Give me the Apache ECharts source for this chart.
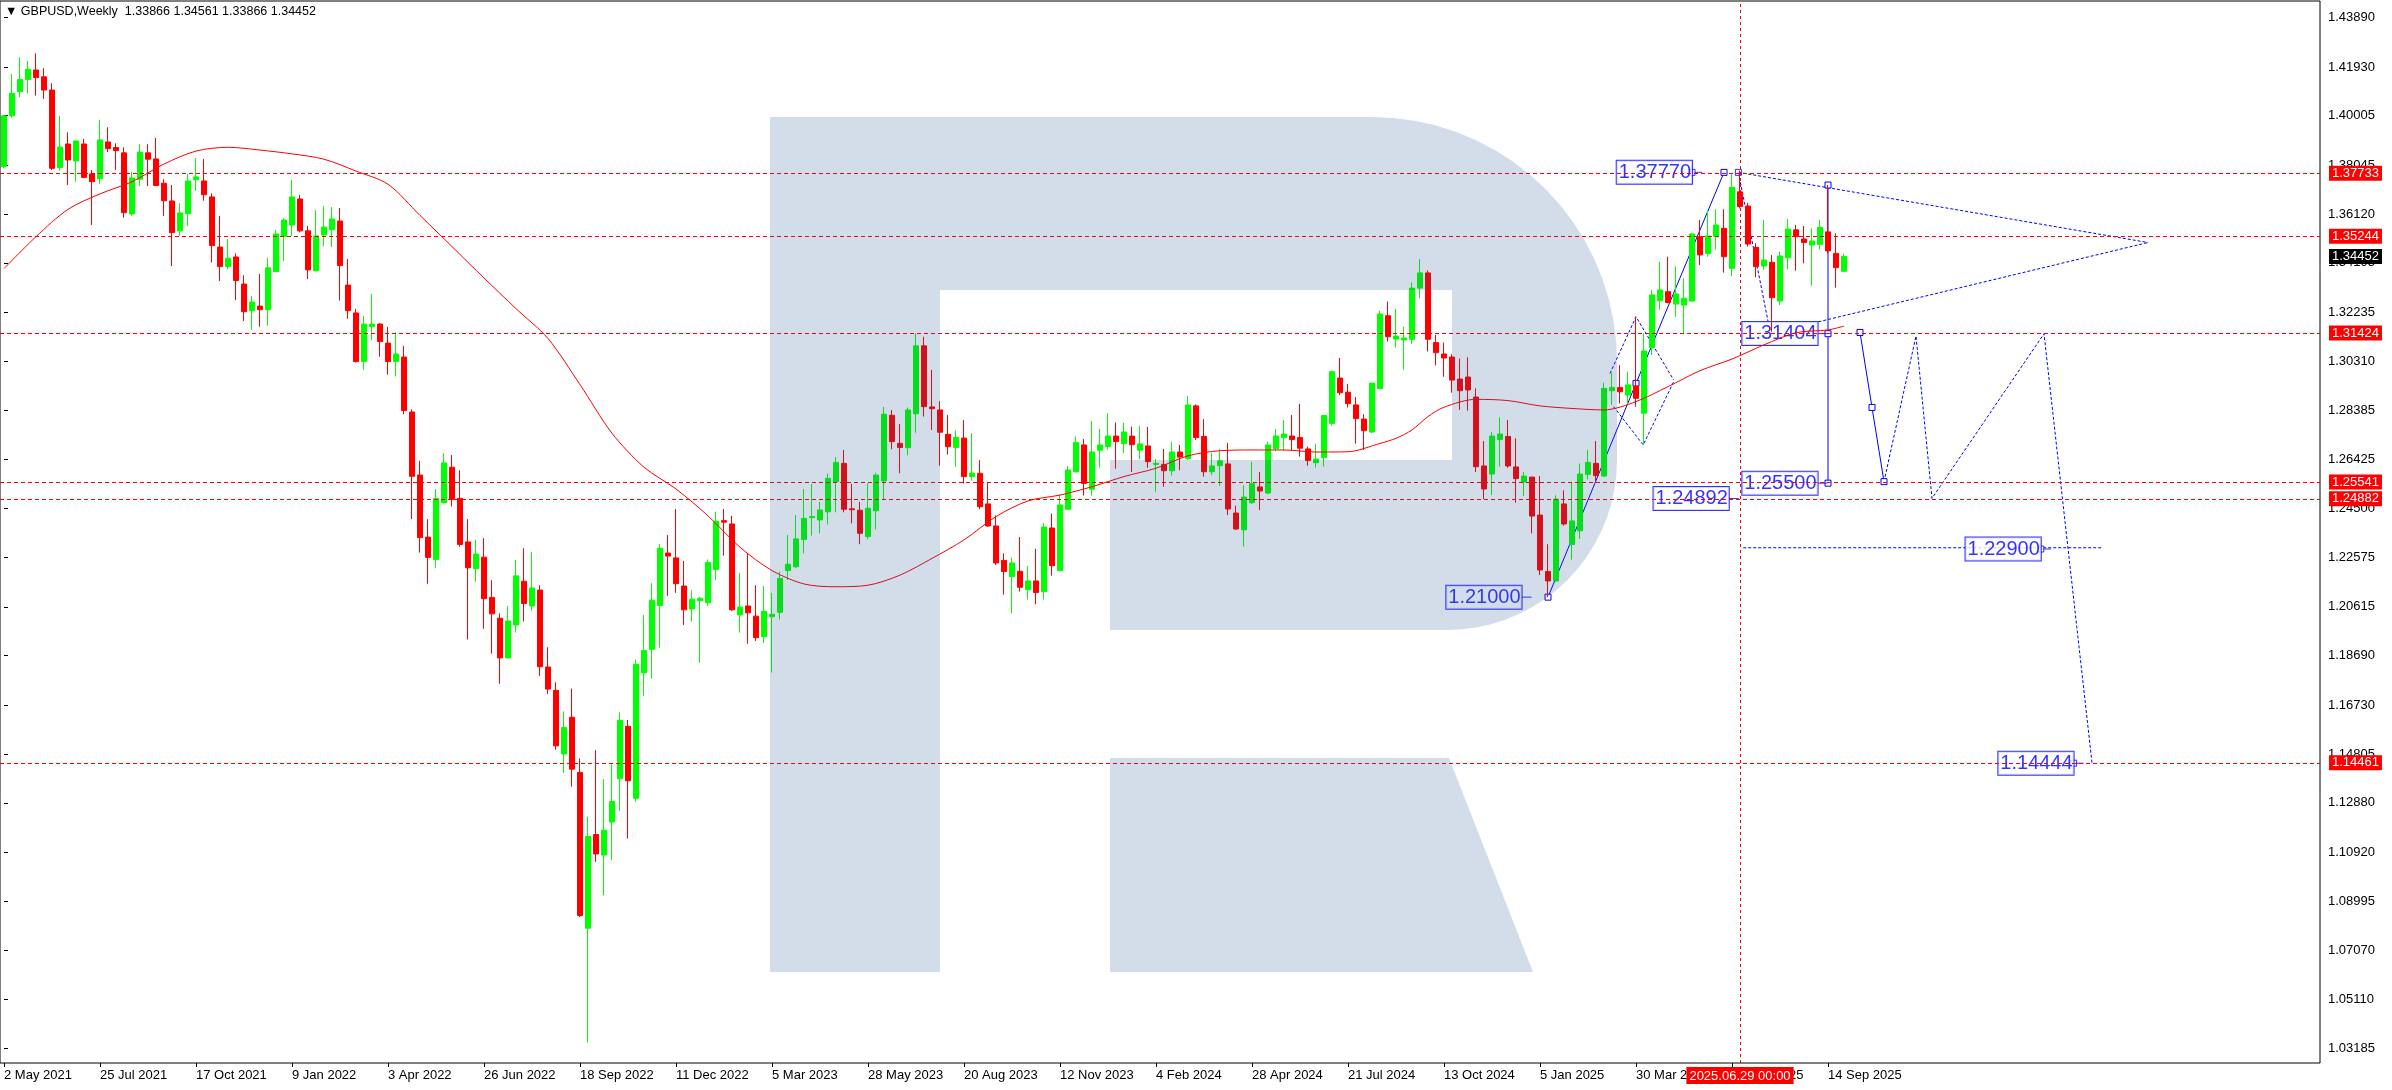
<!DOCTYPE html>
<html><head><meta charset="utf-8">
<script src="https://cdn.jsdelivr.net/npm/echarts@6/dist/echarts.min.js"></script>
<style>html,body{margin:0;padding:0;background:#fff}#c{width:2392px;height:1090px}</style>
</head><body><div id="c"></div>
<script>
const startDate = '2021-05-02';
const totalBars = 290;
const lastDataBar = 230;

const opens = [
1.3800,1.4000,1.4096,1.4144,1.4181,1.4154,1.4102,1.3796,1.3889,1.3822,
1.3889,1.3771,1.3752,1.3897,1.3875,1.3854,1.3613,1.3750,1.3854,1.3830,
1.3734,1.3664,1.3546,1.3614,1.3748,1.3743,1.3680,1.3482,1.3405,1.3443,
1.3336,1.3231,1.3249,1.3235,1.3385,1.3523,1.3569,1.3672,1.3546,1.3389,
1.3530,1.3550,1.3585,1.3332,1.3222,1.3030,1.3168,1.3178,1.3103,1.3030,
1.3048,1.2831,1.2582,1.2337,1.2249,1.2473,1.2613,1.2490,1.2318,1.2212,
1.2258,1.2099,1.2017,1.1860,1.1990,1.2163,1.2065,1.2128,1.1824,1.1732,
1.1481,1.1626,1.1408,1.0793,1.1163,1.1082,1.1212,1.1383,1.1590,1.1306,
1.1801,1.1894,1.2067,1.2274,1.2255,1.2144,1.2053,1.2086,1.2078,1.2209,
1.2402,1.2389,1.2030,1.2065,1.2025,1.1944,1.2023,1.2040,1.2205,1.2220,
1.2328,1.2414,1.2405,1.2437,1.2556,1.2628,1.2449,1.2443,1.2339,1.2441,
1.2559,1.2818,1.2707,1.2690,1.2824,1.3092,1.2851,1.2839,1.2743,1.2691,
1.2728,1.2576,1.2589,1.2468,1.2381,1.2245,1.2181,1.2202,1.2130,1.2164,
1.2122,1.2373,1.2205,1.2447,1.2595,1.2701,1.2526,1.2680,1.2695,1.2736,
1.2706,1.2736,1.2680,1.2697,1.2624,1.2624,1.2599,1.2673,1.2647,1.2855,
1.2734,1.2595,1.2619,1.2626,1.2432,1.2366,1.2473,1.2535,1.2511,1.2686,
1.2730,1.2736,1.2730,1.2685,1.2631,1.2651,1.2786,1.2965,1.2909,1.2859,
1.2803,1.2752,1.2924,1.3211,1.3119,1.3115,1.3118,1.3320,1.3380,1.3105,
1.3060,1.3048,1.2961,1.2969,1.2890,1.2618,1.2586,1.2722,1.2734,1.2614,
1.2555,1.2574,1.2424,1.2201,1.2164,1.2468,1.2308,1.2362,1.2585,1.2628,
1.2578,1.2915,1.2928,1.2898,1.2934,1.2826,1.3085,1.3270,1.3306,1.3257,
1.3253,1.3269,1.3523,1.3457,1.3523,1.3556,1.3398,1.3700,1.3644,1.3481,
1.3407,1.3422,1.3269,1.3440,1.3550,1.3514,1.3490,1.3493,1.3542,1.3457,
1.33866];

const highs = [
1.4004,1.4165,1.4231,1.4217,1.4247,1.4188,1.4129,1.4000,1.3935,1.3901,
1.3909,1.3786,1.3984,1.3955,1.3892,1.3876,1.3779,1.3888,1.3888,1.3913,
1.3750,1.3727,1.3655,1.3771,1.3834,1.3830,1.3694,1.3605,1.3514,1.3457,
1.3371,1.3289,1.3376,1.3439,1.3550,1.3596,1.3747,1.3688,1.3565,1.3628,
1.3644,1.3640,1.3636,1.3435,1.3238,1.3210,1.3297,1.3182,1.3167,1.3147,
1.3092,1.2841,1.2638,1.2408,1.2527,1.2668,1.2661,1.2601,1.2408,1.2326,
1.2333,1.2167,1.2036,1.2065,1.2247,1.2293,1.2278,1.2147,1.1902,1.1764,
1.1649,1.1739,1.1463,1.1233,1.1496,1.1381,1.1440,1.1645,1.1615,1.1854,
1.2029,1.2155,1.2310,1.2345,1.2448,1.2243,1.2128,1.2101,1.2249,1.2437,
1.2448,1.2421,1.2195,1.2274,1.2147,1.2144,1.2117,1.2201,1.2345,1.2424,
1.2527,1.2548,1.2476,1.2588,1.2653,1.2681,1.2547,1.2476,1.2549,1.2591,
1.2851,1.2839,1.2784,1.2849,1.3142,1.3128,1.2997,1.2874,1.2819,1.2759,
1.2799,1.2748,1.2641,1.2553,1.2422,1.2273,1.2256,1.2337,1.2223,1.2291,
1.2393,1.2430,1.2506,1.2618,1.2734,1.2724,1.2795,1.2764,1.2826,1.2789,
1.2788,1.2773,1.2776,1.2772,1.2645,1.2685,1.2713,1.2701,1.2894,1.2861,
1.2803,1.2669,1.2685,1.2709,1.2461,1.2541,1.2634,1.2594,1.2714,1.2764,
1.2799,1.2819,1.2863,1.2694,1.2705,1.2820,1.2994,1.3044,1.2942,1.2890,
1.2822,1.2945,1.3231,1.3267,1.3238,1.3168,1.3343,1.3434,1.3390,1.3135,
1.3105,1.3059,1.3042,1.3047,1.2924,1.2716,1.2752,1.2810,1.2799,1.2727,
1.2594,1.2574,1.2578,1.2309,1.2502,1.2522,1.2555,1.2628,1.2681,1.2716,
1.2947,1.2986,1.3016,1.2990,1.3207,1.3142,1.3313,1.3424,1.3444,1.3405,
1.3359,1.3536,1.3589,1.3628,1.3631,1.3631,1.3773,1.3784,1.3657,1.3497,
1.3589,1.3451,1.3464,1.3593,1.3569,1.3565,1.3556,1.3589,1.3727,1.3536,
1.34561];

const lows = [
1.3793,1.3993,1.4073,1.4089,1.4080,1.4067,1.3786,1.3784,1.3727,1.3740,
1.3754,1.3569,1.3731,1.3857,1.3786,1.3598,1.3606,1.3723,1.3723,1.3723,
1.3605,1.3407,1.3526,1.3565,1.3704,1.3665,1.3421,1.3348,1.3394,1.3273,
1.3190,1.3155,1.3168,1.3171,1.3385,1.3427,1.3526,1.3540,1.3356,1.3385,
1.3486,1.3482,1.3271,1.3199,1.3026,1.2997,1.3115,1.3049,1.2978,1.2971,
1.2822,1.2408,1.2276,1.2153,1.2216,1.2469,1.2458,1.2299,1.1933,1.2161,
1.1975,1.1877,1.1758,1.1860,1.1960,1.2004,1.2046,1.1789,1.1718,1.1498,
1.1406,1.1352,1.0837,1.0342,1.1055,1.0923,1.1063,1.1256,1.1147,1.1291,
1.1710,1.1778,1.1900,1.2105,1.2117,1.1990,1.2004,1.1841,1.2065,1.2168,
1.2264,1.2046,1.1960,1.1916,1.1927,1.1919,1.1802,1.2011,1.2168,1.2214,
1.2273,1.2343,1.2352,1.2387,1.2435,1.2435,1.2391,1.2309,1.2328,1.2368,
1.2486,1.2684,1.2589,1.2660,1.2749,1.2813,1.2760,1.2619,1.2663,1.2615,
1.2549,1.2560,1.2447,1.2377,1.2227,1.2110,1.2036,1.2122,1.2091,1.2072,
1.2091,1.2185,1.2201,1.2447,1.2591,1.2501,1.2501,1.2611,1.2682,1.2607,
1.2669,1.2594,1.2645,1.2611,1.2516,1.2536,1.2580,1.2601,1.2641,1.2720,
1.2576,1.2582,1.2540,1.2424,1.2365,1.2299,1.2468,1.2444,1.2506,1.2676,
1.2678,1.2678,1.2655,1.2619,1.2611,1.2615,1.2776,1.2898,1.2849,1.2706,
1.2681,1.2747,1.2920,1.3109,1.3085,1.2997,1.3100,1.3280,1.3070,1.3015,
1.2970,1.2907,1.2839,1.2836,1.2594,1.2487,1.2503,1.2615,1.2611,1.2473,
1.2499,1.2352,1.2187,1.2100,1.2161,1.2382,1.2248,1.2330,1.2565,1.2556,
1.2576,1.2859,1.2865,1.2859,1.2852,1.2701,1.3056,1.3234,1.3260,1.3207,
1.3138,1.3267,1.3411,1.3444,1.3471,1.3381,1.3368,1.3635,1.3484,1.3363,
1.3392,1.3148,1.3253,1.3394,1.3389,1.3418,1.3330,1.3473,1.3457,1.3322,
1.33866];

const closes = [
1.4000,1.4089,1.4144,1.4184,1.4151,1.4102,1.3793,1.3877,1.3826,1.3901,
1.3757,1.3740,1.3905,1.3871,1.3863,1.3618,1.3755,1.3857,1.3829,1.3725,
1.3665,1.3539,1.3617,1.3743,1.3759,1.3689,1.3488,1.3405,1.3438,1.3350,
1.3227,1.3265,1.3235,1.3400,1.3534,1.3589,1.3680,1.3546,1.3392,1.3526,
1.3561,1.3593,1.3409,1.3231,1.3030,1.3178,1.3178,1.3109,1.3030,1.3060,
1.2837,1.2577,1.2335,1.2257,1.2490,1.2630,1.2485,1.2308,1.2216,1.2270,
1.2094,1.2034,1.1860,1.2006,1.2184,1.2075,1.2136,1.1825,1.1737,1.1513,
1.1586,1.1421,1.0843,1.1155,1.1086,1.1180,1.1293,1.1613,1.1375,1.1835,
1.1889,1.2088,1.2293,1.2262,1.2153,1.2050,1.2092,1.2096,1.2237,1.2400,
1.2396,1.2050,1.2061,1.2038,1.1940,1.2044,1.2032,1.2174,1.2230,1.2330,
1.2411,1.2418,1.2444,1.2569,1.2632,1.2447,1.2445,1.2352,1.2451,1.2582,
1.2822,1.2714,1.2691,1.2839,1.3092,1.2852,1.2844,1.2751,1.2694,1.2731,
1.2576,1.2590,1.2457,1.2381,1.2235,1.2201,1.2235,1.2139,1.2164,1.2118,
1.2377,1.2224,1.2464,1.2602,1.2711,1.2549,1.2673,1.2701,1.2736,1.2714,
1.2752,1.2702,1.2705,1.2635,1.2628,1.2599,1.2673,1.2653,1.2859,1.2730,
1.2595,1.2618,1.2638,1.2448,1.2369,1.2495,1.2548,1.2519,1.2701,1.2736,
1.2744,1.2722,1.2688,1.2639,1.2645,1.2817,1.2990,1.2907,1.2864,1.2805,
1.2757,1.2945,1.3218,1.3128,1.3131,1.3123,1.3320,1.3380,1.3118,1.3065,
1.3044,1.2957,1.2915,1.2918,1.2615,1.2527,1.2736,1.2744,1.2618,1.2568,
1.2578,1.2420,1.2207,1.2164,1.2487,1.2389,1.2401,1.2586,1.2632,1.2580,
1.2924,1.2928,1.2911,1.2938,1.2885,1.3072,1.3293,1.3313,1.3263,1.3297,
1.3280,1.3534,1.3451,1.3526,1.3569,1.3444,1.3718,1.3642,1.3494,1.3405,
1.3431,1.3282,1.3447,1.3553,1.3523,1.3500,1.3506,1.3560,1.3467,1.3401,
1.34452];

// moving average at selected bars
const maBars = [0,4,8,12,16,20,24,28,32,36,40,44,48,52,56,60,64,68,72,76,80,84,88,92,96,100,104,108,112,116,120,124,128,132,136,140,144,148,152,156,160,164,168,172,174,176,178,180,184,188,192,196,200,204,208,212,216,220,224,228,230];
const maValues = [1.3397,1.3523,1.3631,1.3692,1.3740,1.3810,1.3861,1.3876,1.3865,1.3850,1.3829,1.3782,1.3730,1.3607,1.3484,1.3360,1.3239,1.3121,1.2939,1.2747,1.2613,1.2527,1.2421,1.2297,1.2205,1.2152,1.2141,1.2147,1.2187,1.2253,1.2326,1.2418,1.2480,1.2503,1.2536,1.2576,1.2609,1.2658,1.2678,1.2681,1.2681,1.2673,1.2674,1.2707,1.2727,1.2760,1.2813,1.2850,1.2881,1.2876,1.2855,1.2845,1.2839,1.2872,1.2931,1.2994,1.3040,1.3096,1.3144,1.3155,1.3170];

const yTicks = [1.43890,1.41930,1.40005,1.38045,1.36120,1.34195,1.32235,1.30310,1.28385,1.26425,1.24500,1.22575,1.20615,1.18690,1.16730,1.14805,1.12880,1.10920,1.08995,1.07070,1.05110,1.03185];
const levelPrices = [1.37733,1.35244,1.31424,1.25541,1.24882,1.14461];
const markerBar = 217;
const markerText = '2025.06.29 00:00';

// blue drawings (bar index, price)
const upTrendBars = [193,204,215], upTrendPrices = [1.2100,1.2944,1.3777];
const rangeBars = [228,228,228], rangePrices = [1.3727,1.3140,1.2550];
const dropBars = [232,233.5,235], dropPrices = [1.3145,1.2849,1.2556];
const pathBars = [235,239,241,255,261], pathPrices = [1.2556,1.3131,1.2490,1.3140,1.1446];
const triUpperBars = [216.8,268], triUpperPrices = [1.3777,1.3500];
const triLowerBars = [226.8,268], triLowerPrices = [1.3187,1.3500];
const steepBars = [216.8,220.5], steepPrices = [1.3777,1.3190];
const wedgeTopBars = [200.75,204,208.7], wedgeTopPrices = [1.2983,1.3207,1.2958];
const wedgeLowBars = [201.2,204.9,208.7], wedgeLowPrices = [1.2852,1.2701,1.2950];
const targetLineBars = [217.4,262.2], targetLinePrices = [1.2295,1.2295];
const labelBars = [211,189.7,226.7,226.7,215.6,254.6,258.7];
const labelPrices = [1.37770,1.21000,1.31404,1.25500,1.24892,1.22900,1.14444];
const handleBars = [216.8,211,254.6,258.7];
const handlePrices = [1.3777,1.3777,1.2290,1.14444];

const months = ['Jan','Feb','Mar','Apr','May','Jun','Jul','Aug','Sep','Oct','Nov','Dec'];
const dates = [];
{
  const [y,m,d] = startDate.split('-').map(Number);
  for (let i = 0; i < totalBars; i++) {
    const dt = new Date(Date.UTC(y, m-1, d + 7*i));
    dates.push(dt.toISOString().slice(0,10));
  }
}
function fmtDate(s){ const [y,m,d]=s.split('-').map(Number); return d+' '+months[m-1]+' '+y; }
const showLabel = (idx) => idx % 12 === 0 && idx <= lastDataBar;

const pairs = (xs, ys) => xs.map((x,i)=>[x, ys[i]]);
const BLUE = '#0000ff';
const FONT = 'Liberation Sans, Arial, sans-serif';

const gridTop = 1, gridBottom = 27, gridLeft = 0, gridRight = 72;
const yMin = 1.02609, yMax = 1.44535;

function blueLine(xs, ys, dotted, handles) {
  return {
    type:'line', xAxisIndex:1, data: pairs(xs,ys), z:2, silent:true,
    showSymbol: !!handles, symbol:'rect', symbolSize:6,
    itemStyle:{color:'#ffffff', borderColor:BLUE, borderWidth:1},
    lineStyle:{color:BLUE, width:1, type: dotted ? [3,2] : 'solid'},
    animation:false
  };
}

const logoFill = 'rgba(35,85,145,0.2)';
function bowlPoints(){
  const pts = [[940,117],[1372,117]];
  const c1 = [1372,362], r1 = 245;
  for (let a=-90; a<=0; a+=5){ const t=a*Math.PI/180; pts.push([c1[0]+r1*Math.cos(t), c1[1]+r1*Math.sin(t)]); }
  const c2 = [1447,460], r2 = 170;
  for (let a=0; a<=90; a+=5){ const t=a*Math.PI/180; pts.push([c2[0]+r2*Math.cos(t), c2[1]+r2*Math.sin(t)]); }
  pts.push([1110,630],[1110,460],[1452,460],[1452,290],[940,290]);
  return pts;
}

const priceLabel = {show:true, position:'end', distance:9, color:'#ffffff', backgroundColor:'#ff0000', padding:[1,3,0,3], fontSize:13, fontFamily:FONT, lineHeight:14};

const option = {
  animation:false,
  backgroundColor:'#ffffff',
  textStyle:{fontFamily:FONT},
  grid:{left:gridLeft, right:gridRight, top:gridTop, bottom:gridBottom, show:true, borderColor:'#000', borderWidth:1},
  xAxis:[
    {type:'category', data:dates, boundaryGap:true,
     axisLine:{show:false},
     axisTick:{show:true, alignWithLabel:true, interval:(i)=>showLabel(i), length:4, lineStyle:{color:'#000'}},
     axisLabel:{interval:(i)=>showLabel(i), formatter:(v)=>fmtDate(v), align:'left', color:'#000', fontSize:13, fontFamily:FONT, margin:6},
     splitLine:{show:false}},
    {type:'value', min:-0.5, max:totalBars-0.5, show:false}
  ],
  yAxis:{type:'value', position:'right', min:yMin, max:yMax, scale:true,
    axisLine:{show:false},
    axisTick:{show:true, customValues:yTicks, length:4, lineStyle:{color:'#000'}},
    axisLabel:{customValues:yTicks, formatter:(v)=>v.toFixed(5), color:'#000', fontSize:13, fontFamily:FONT, margin:8},
    splitLine:{show:false}},
  graphic:[
    {type:'text', left:5, top:5, z:120, style:{text:'\u25BC GBPUSD,Weekly  '+[opens[lastDataBar],highs[lastDataBar],lows[lastDataBar],closes[lastDataBar]].map(v=>v.toFixed(5)).join(' '), font:'12.5px '+FONT, fill:'#000'}},
    {type:'rect', z:100, silent:true, shape:{x:770,y:117,width:170,height:855}, style:{fill:logoFill}},
    {type:'polygon', z:100, silent:true, shape:{points:bowlPoints()}, style:{fill:logoFill}},
    {type:'polygon', z:100, silent:true, shape:{points:[[1110,758],[1449,758],[1533,972],[1110,972]]}, style:{fill:logoFill}}
  ],
  series:[
    {type:'line', name:'levels', data:[], z:1, silent:true,
     markLine:{symbol:['none','none'], silent:true, animation:false, precision:5,
       lineStyle:{color:'#ff0000', width:1, type:[4,3]},
       label:priceLabel,
       data:[
         ...levelPrices.map(p=>({yAxis:p, label:Object.assign({}, priceLabel, {formatter:p.toFixed(5)})})),
         {xAxis:markerBar, lineStyle:{type:[3,3]}, label:Object.assign({}, priceLabel, {position:'start', distance:4, formatter:markerText, padding:[2,3,1,3]})}
       ]}},
    {type:'line', name:'last', data:[], z:1, silent:true,
     markLine:{symbol:['none','none'], silent:true, animation:false, precision:5,
       lineStyle:{color:'rgba(0,0,0,0)', width:1},
       label:Object.assign({}, priceLabel, {backgroundColor:'#000000', color:'#ffffff', formatter:closes[lastDataBar].toFixed(5)}),
       data:[{yAxis:closes[lastDataBar]}]}},
    blueLine(upTrendBars, upTrendPrices, false, true),
    blueLine(rangeBars, rangePrices, false, true),
    blueLine(dropBars, dropPrices, false, true),
    blueLine(pathBars, pathPrices, true, false),
    blueLine(triUpperBars, triUpperPrices, true, false),
    blueLine(triLowerBars, triLowerPrices, true, false),
    blueLine(steepBars, steepPrices, true, false),
    blueLine(wedgeTopBars, wedgeTopPrices, true, false),
    blueLine(wedgeLowBars, wedgeLowPrices, true, false),
    blueLine(targetLineBars, targetLinePrices, true, false),
    {type:'scatter', xAxisIndex:1, z:2, silent:true, data:pairs(labelBars,labelPrices),
     symbol:'rect', symbolSize:[10,1], symbolOffset:[5,0], itemStyle:{color:BLUE},
     label:{show:true, position:'left', distance:0, formatter:(p)=>p.value[1].toFixed(5),
       color:BLUE, fontSize:20, fontFamily:FONT, backgroundColor:'#ffffff', borderColor:BLUE, borderWidth:1, padding:[2,1,1,2], lineHeight:20}},
    {type:'scatter', xAxisIndex:1, z:2, silent:true, data:pairs(handleBars,handlePrices),
     symbol:'rect', symbolSize:6, itemStyle:{color:'#ffffff', borderColor:BLUE, borderWidth:1}},
    {type:'candlestick', z:3, silent:true, barWidth:5,
     data: opens.map((o,i)=>[o, closes[i], lows[i], highs[i]]),
     itemStyle:{color:'#00ff00', color0:'#ff0000', borderColor:'#00ff00', borderColor0:'#ff0000', borderWidth:1}},
    {type:'line', xAxisIndex:1, z:4, silent:true, data:pairs(maBars, maValues), smooth:0.3, showSymbol:false,
     lineStyle:{color:'#ff0000', width:1}}
  ]
};
const chart = echarts.init(document.getElementById('c'), null, {renderer:'canvas', width:2392, height:1090});
chart.setOption(option);
</script></body></html>
